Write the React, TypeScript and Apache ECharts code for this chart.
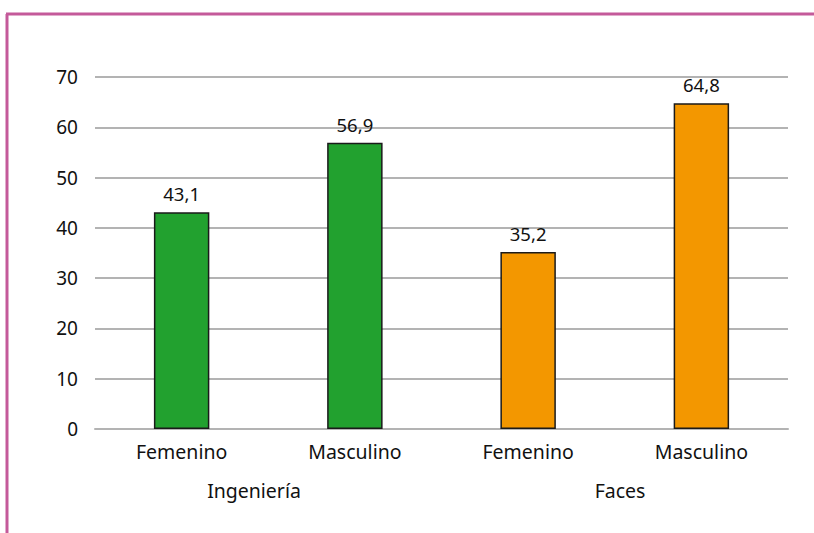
import React, { useEffect, useRef } from "react";
import * as echarts from "echarts";

const categories = ["Femenino", "Masculino", "Femenino", "Masculino"];
const values = [43.1, 56.9, 35.2, 64.8];
const barColors = ["#22a12f", "#22a12f", "#f39700", "#f39700"];
const groups = ["Ingeniería", "Faces"];
const yTicks = { min: 0, max: 70, interval: 10 };

export default function App() {
  const ref = useRef<HTMLDivElement>(null);
  useEffect(() => {
    document.body.style.margin = "0";
    const chart = echarts.init(ref.current!, null, { renderer: "svg" });
    const font = "'Noto Sans', sans-serif";
    chart.setOption({
      animation: false,
      grid: { left: 95, right: 26, top: 77, bottom: 104, containLabel: false },
      xAxis: {
        type: "category",
        data: categories,
        axisLine: { show: true, lineStyle: { color: "#b3b3b3", width: 2 } },
        axisTick: { show: false },
        axisLabel: { color: "#111", fontSize: 19.5, fontFamily: font, margin: 12 },
      },
      yAxis: {
        type: "value",
        min: yTicks.min,
        max: yTicks.max,
        interval: yTicks.interval,
        axisLine: { show: false },
        axisTick: { show: false },
        axisLabel: { color: "#111", fontSize: 19, fontFamily: font, margin: 17 },
        splitLine: { lineStyle: { color: "#b3b3b3", width: 2 } },
      },
      series: [
        {
          type: "bar",
          barWidth: "32%",
          data: values.map((v, i) => ({
            value: v,
            itemStyle: { color: barColors[i], borderColor: "#1a1a1a", borderWidth: 1.5 },
          })),
          label: {
            show: true,
            position: "top",
            distance: 9,
            color: "#111",
            fontSize: 18.5,
            fontFamily: font,
            formatter: (p: any) => String(p.value).replace(".", ","),
          },
        },
      ],
      graphic: [
        { type: "line", shape: { x1: 7, y1: 14, x2: 7, y2: 533 }, style: { stroke: "#c45a9a", lineWidth: 3 } },
        { type: "line", shape: { x1: 6, y1: 14, x2: 814, y2: 14 }, style: { stroke: "#c45a9a", lineWidth: 3 } },
        {
          type: "text", x: 254, y: 490,
          style: { text: groups[0], fill: "#111", fontSize: 19.5, fontFamily: font, textAlign: "center", textVerticalAlign: "middle" },
        },
        {
          type: "text", x: 620, y: 490,
          style: { text: groups[1], fill: "#111", fontSize: 19.5, fontFamily: font, textAlign: "center", textVerticalAlign: "middle" },
        },
      ],
    });
    return () => chart.dispose();
  }, []);
  return <div ref={ref} style={{ width: 814, height: 533 }} />;
}
